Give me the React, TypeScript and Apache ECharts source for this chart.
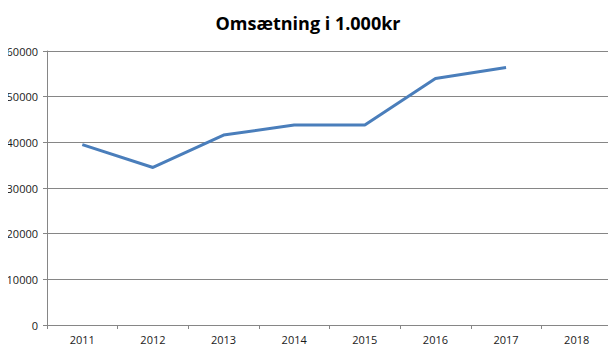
import React, { useEffect, useRef } from "react";
import * as echarts from "echarts";

const title = "Omsætning i 1.000kr";
const categories = ["2011", "2012", "2013", "2014", "2015", "2016", "2017", "2018"];
const revenue: (number | null)[] = [39500, 34500, 41600, 43800, 43800, 54000, 56400, null];
const yTicks = { min: 0, max: 60000, interval: 10000 };

export default function App() {
  const ref = useRef<HTMLDivElement>(null);
  useEffect(() => {
    if (!ref.current) return;
    const chart = echarts.init(ref.current, null, { renderer: "svg" });
    chart.setOption({
      animation: false,
      backgroundColor: "#ffffff",
      title: {
        text: title,
        left: "center",
        top: 9,
        textStyle: { fontFamily: "Open Sans", fontWeight: "bold", fontSize: 18, color: "#000000" },
      },
      grid: { left: 47, right: 4, top: 51, bottom: 27, containLabel: false },
      xAxis: {
        type: "category",
        data: categories,
        boundaryGap: true,
        axisLine: { show: true, lineStyle: { color: "#868686", width: 1 } },
        axisTick: { show: true, alignWithLabel: false, length: 4, lineStyle: { color: "#868686" } },
        axisLabel: { color: "#1a1a1a", fontSize: 11, fontFamily: "Open Sans", margin: 9 },
        splitLine: { show: false },
      },
      yAxis: {
        type: "value",
        min: yTicks.min,
        max: yTicks.max,
        interval: yTicks.interval,
        axisLine: { show: true, lineStyle: { color: "#868686", width: 1 } },
        axisTick: { show: true, inside: false, length: 4, lineStyle: { color: "#868686" } },
        axisLabel: {
          color: "#1a1a1a",
          fontSize: 11,
          fontFamily: "Open Sans",
          margin: 9,
          showMaxLabel: true,
          showMinLabel: true,
          formatter: (v: number) => String(v),
        },
        splitLine: { show: true, showMaxLine: true, lineStyle: { color: "#868686", width: 1 } },
      },
      series: [
        {
          type: "line",
          data: revenue,
          symbol: "none",
          connectNulls: false,
          lineStyle: { color: "#4a7ebb", width: 3 },
        },
      ],
    });
    return () => chart.dispose();
  }, []);
  return <div ref={ref} style={{ width: 616, height: 352, margin: -8 }} />;
}
